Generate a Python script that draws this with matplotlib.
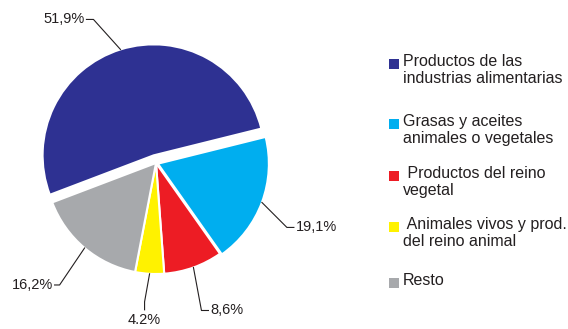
import numpy as np
import matplotlib
matplotlib.use("Agg")
import matplotlib.pyplot as plt
from matplotlib.patches import Rectangle

# data
categorias = ["Productos de las\nindustrias alimentarias",
              "Grasas y aceites\nanimales o vegetales",
              " Productos del reino\nvegetal",
              " Animales vivos y prod.\ndel reino animal",
              "Resto"]
valores = [51.9, 19.1, 8.6, 4.2, 16.2]
etiquetas = ["51,9%", "19,1%", "8,6%", "4.2%", "16,2%"]

colores = ["#2e3192", "#00aeef", "#ed1c24", "#fff200", "#a7a9ac"]
txt_col = "#231f20"

W, H = 568, 329
plt.rcParams['font.family'] = ['Liberation Sans', 'DejaVu Sans']

fig = plt.figure(figsize=(W / 100, H / 100), dpi=100)
ax = fig.add_axes([0, 0, 1, 1])

wedges, _ = ax.pie(valores, colors=colores, startangle=200.8, counterclock=False,
                   center=(156, 166), radius=111, explode=[8, 2, 0, 0, 0],
                   wedgeprops=dict(edgecolor='white', linewidth=1.5))
ax.set_xlim(0, W)
ax.set_ylim(0, H)
ax.set_aspect('equal')
ax.axis('off')

# leader lines: (dx, dy) to elbow, horizontal tail, text alignment
lideres = [((-27, 30), -7, 'right'),
           ((25, -25), 7, 'left'),
           ((8, -43), 7, 'left'),
           ((-5, -28), None, 'center'),
           ((-25, -37), -5, 'right')]

for w, lab, (d, tail, ha) in zip(wedges, etiquetas, lideres):
    tm = np.radians((w.theta1 + w.theta2) / 2)
    x0 = w.center[0] + w.r * np.cos(tm)
    y0 = w.center[1] + w.r * np.sin(tm)
    x1, y1 = x0 + d[0], y0 + d[1]
    if tail is None:
        x2, y2 = x1, y1 - 8
        ax.plot([x0, x1, x2], [y0, y1, y2], color=txt_col, lw=0.8)
        ax.text(x2, y2 - 3, lab, ha='center', va='top', fontsize=10.5, color=txt_col)
    else:
        x2, y2 = x1 + tail, y1
        ax.plot([x0, x1, x2], [y0, y1, y2], color=txt_col, lw=0.8)
        gap = 1.5 if tail > 0 else -1.5
        ax.text(x2 + gap, y2, lab, ha=ha, va='center', fontsize=10.5, color=txt_col)

# legend
filas = [59, 119, 171, 222, 278]
for yt, col, cat in zip(filas, colores, categorias):
    ax.add_patch(Rectangle((389, H - yt - 10), 10, 10, facecolor=col, edgecolor='none'))
    ax.text(403, H - yt + 5, cat, ha='left', va='top', fontsize=11.5,
            color=txt_col, linespacing=1.18)

fig.savefig("out.png", dpi=100)
